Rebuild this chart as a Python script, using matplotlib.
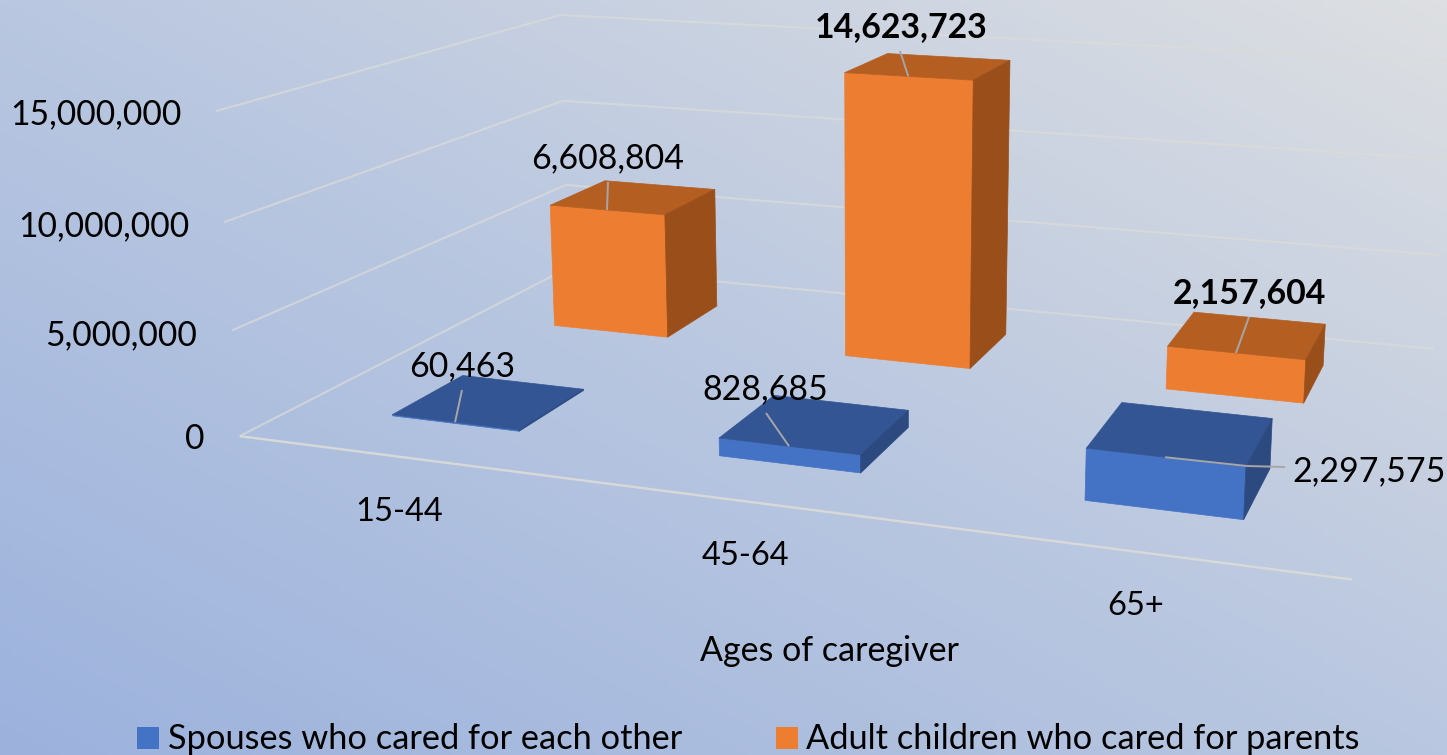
from __future__ import annotations

import matplotlib

matplotlib.use("Agg")

import matplotlib.pyplot as plt
import numpy as np
from matplotlib.colors import LinearSegmentedColormap
from matplotlib.patches import Polygon, Rectangle


WIDTH, HEIGHT = 1447, 755
OUT_PATH = "out.png"

CATEGORIES = ["15-44", "45-64", "65+"]
SPOUSES = [60463, 828685, 2297575]
ADULT_CHILDREN = [6608804, 14623723, 2157604]
VALUE_TICKS = [0, 5000000, 10000000, 15000000]
SERIES_NAMES = ["Spouses who cared for each other", "Adult children who cared for parents"]
X_TITLE = "Ages of caregiver"

FONT = "Lato"
GRID_COLOR = "#dcdcd8"
BLUE = ("#4472c4", "#335593", "#2c4a80")
ORANGE = ("#ed7d31", "#b45e22", "#9a4f1b")

# camera calibration: (category, depth, millions) -> screen pixel, on the chart box
CAMERA_WORLD = [
    (0, 0, 0), (3, 0, 0), (0, 1, 0), (3, 1, 0),
    (0, 0, 5), (0, 0, 10), (0, 0, 15),
    (0, 1, 5), (0, 1, 10), (0, 1, 15),
    (3, 1, 5), (3, 1, 10), (3, 1, 15),
]
CAMERA_SCREEN = [
    (240, 436), (1352, 579), (568, 267), (1434, 349),
    (232, 331), (224, 222), (216, 111),
    (566, 185), (564, 101), (560, 15),
    (1440, 256), (1446, 159), (1452, 61),
]


def fit_camera() -> np.ndarray:
    # direct linear transform for a 3x4 projective camera
    rows = []
    for (x, y, z), (u, v) in zip(CAMERA_WORLD, CAMERA_SCREEN):
        rows.append([x, y, z, 1, 0, 0, 0, 0, -u * x, -u * y, -u * z, -u])
        rows.append([0, 0, 0, 0, x, y, z, 1, -v * x, -v * y, -v * z, -v])
    _, _, vt = np.linalg.svd(np.array(rows, dtype=float))
    return vt[-1].reshape(3, 4)


CAMERA = fit_camera()


def project(x: float, y: float, value: float) -> tuple[float, float]:
    p = CAMERA @ np.array([x, y, value / 1e6, 1.0])
    return p[0] / p[2], p[1] / p[2]


def draw_background(ax) -> None:
    cmap = LinearSegmentedColormap.from_list(
        "backdrop", [(0.0, "#9cb2dd"), (0.5, "#b9c7e0"), (1.0, "#dddfe2")]
    )
    xx, yy = np.meshgrid(np.linspace(0, 1, 300), np.linspace(0, 1, 200))
    ax.imshow((xx + 1 - yy) / 2, cmap=cmap, vmin=0, vmax=1, aspect="auto",
              extent=(0, WIDTH, HEIGHT, 0), zorder=0)


def draw_grid(ax) -> None:
    for tick in VALUE_TICKS:
        pts = [project(0, 0, tick), project(0, 1, tick), project(3, 1, tick)]
        ax.plot(*zip(*pts), color=GRID_COLOR, lw=1.5, alpha=0.7, zorder=1,
                solid_joinstyle="miter", solid_capstyle="butt")
    pts = [project(0, 0, 0), project(3, 0, 0)]
    ax.plot(*zip(*pts), color=GRID_COLOR, lw=1.7, alpha=0.9, zorder=1, solid_capstyle="butt")


def draw_bar(ax, cat: int, y0: float, y1: float, value: float, colors: tuple, zorder: int) -> None:
    x0, x1 = cat + 0.3, cat + 0.7
    front = [project(x0, y0, 0), project(x1, y0, 0), project(x1, y0, value), project(x0, y0, value)]
    top = [project(x0, y0, value), project(x1, y0, value), project(x1, y1, value), project(x0, y1, value)]
    side = [project(x1, y0, 0), project(x1, y1, 0), project(x1, y1, value), project(x1, y0, value)]
    for face, color in zip((front, top, side), colors):
        ax.add_patch(Polygon(face, closed=True, facecolor=color, edgecolor=color, lw=0.5, zorder=zorder))


def draw_label(ax, anchor: tuple, leader_end: tuple, text_xy: tuple, value: int, bold: bool = False, elbow=None) -> None:
    path = [anchor] + ([elbow] if elbow else []) + [leader_end]
    ax.plot(*zip(*path), color="#a6a6a6", lw=1.4, zorder=6, solid_capstyle="butt")
    ax.text(text_xy[0], text_xy[1], f"{value:,}", ha="center", va="center", fontsize=24.4,
            family=FONT, fontweight="bold" if bold else "normal", color="black", zorder=7)


def main() -> None:
    fig = plt.figure(figsize=(WIDTH / 100, HEIGHT / 100), dpi=100)
    ax = fig.add_axes([0, 0, 1, 1])
    draw_background(ax)
    draw_grid(ax)

    # back row first so the front row overlaps it
    for i in range(len(CATEGORIES)):
        draw_bar(ax, i, 0.65, 0.85, ADULT_CHILDREN[i], ORANGE, zorder=3)
    for i in range(len(CATEGORIES)):
        draw_bar(ax, i, 0.15, 0.35, SPOUSES[i], BLUE, zorder=4)

    # data labels, each with a leader line from the middle of the bar's top edge
    draw_label(ax, project(0.5, 0.15, SPOUSES[0]), (462, 390), (462, 366), SPOUSES[0])
    draw_label(ax, project(1.5, 0.15, SPOUSES[1]), (766, 413), (765, 389), SPOUSES[1])
    draw_label(ax, project(2.5, 0.15, SPOUSES[2]), (1285, 467), (1369, 471), SPOUSES[2], elbow=(1247, 466))
    draw_label(ax, project(0.5, 0.65, ADULT_CHILDREN[0]), (608, 182), (608, 158), ADULT_CHILDREN[0])
    draw_label(ax, project(1.5, 0.65, ADULT_CHILDREN[1]), (900, 51), (901, 27), ADULT_CHILDREN[1], bold=True)
    draw_label(ax, project(2.5, 0.65, ADULT_CHILDREN[2]), (1249, 317), (1249, 293), ADULT_CHILDREN[2], bold=True)

    tick_right = [204, 197, 189, 182]
    tick_y = [439, 335, 226, 114]
    for tick, right, y in zip(VALUE_TICKS, tick_right, tick_y):
        ax.text(right, y, f"{tick:,}", ha="right", va="center", fontsize=24.2, family=FONT, color="black")

    cat_xy = [(399, 512), (745, 556), (1136, 606)]
    for name, (x, y) in zip(CATEGORIES, cat_xy):
        ax.text(x, y, name, ha="center", va="center", fontsize=23.5, family=FONT, color="black")
    ax.text(829, 651, X_TITLE, ha="center", va="center", fontsize=24.5, family=FONT, color="black")

    legend_x = [(137, 168), (776, 806)]
    for name, color, (sx, tx) in zip(SERIES_NAMES, (BLUE[0], ORANGE[0]), legend_x):
        ax.add_patch(Rectangle((sx, 727), 22, 22, facecolor=color, edgecolor="none", zorder=5))
        ax.text(tx, 739, name, ha="left", va="center", fontsize=24.75, family=FONT, color="black")

    ax.set_xlim(0, WIDTH)
    ax.set_ylim(HEIGHT, 0)
    ax.axis("off")
    fig.savefig(OUT_PATH, dpi=100)
    plt.close(fig)


if __name__ == "__main__":
    main()
